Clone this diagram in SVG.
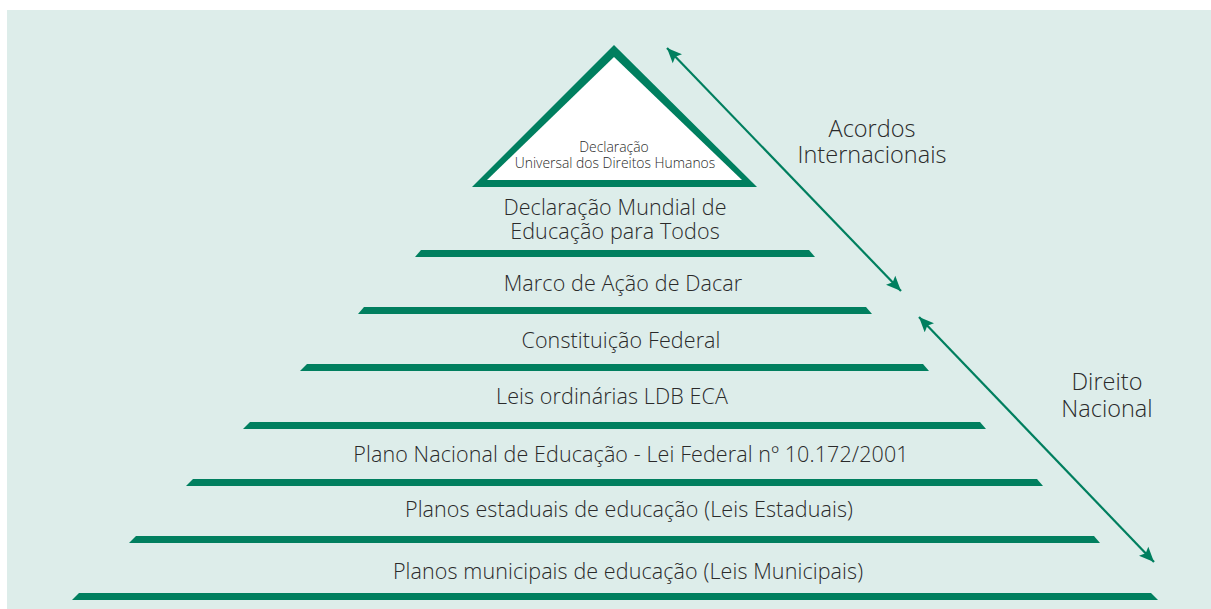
<svg xmlns="http://www.w3.org/2000/svg" width="1211" height="609" viewBox="0 0 1211 609">
<defs>
<style>
.bar{fill:#007f5f}
.t{font-family:"Open Sans","Noto Sans",sans-serif;font-size:21.5px;font-weight:300;letter-spacing:0.1px;fill:#2a2a2a;text-anchor:middle}
.l{font-family:"Open Sans","Noto Sans",sans-serif;font-size:23.5px;font-weight:300;fill:#2a2a2a;text-anchor:middle}
.s{font-family:"Open Sans","Noto Sans",sans-serif;font-size:13.9px;font-weight:300;fill:#2a2a2a;text-anchor:middle}
.arr{stroke:#007f5f;stroke-width:2.2;fill:none;marker-start:url(#ah);marker-end:url(#ah)}
</style>
<marker id="ah" markerUnits="userSpaceOnUse" markerWidth="16" markerHeight="14" refX="15" refY="6.5" orient="auto-start-reverse" viewBox="0 0 16 13">
<path d="M0,0 L15,6.5 L0,13 L3,6.5 z" fill="#007f5f"/>
</marker>
</defs>
<rect width="1211" height="609" fill="#ffffff"/>
<rect x="7" y="10" width="1204" height="599" fill="#ddedea"/>

<g id="apex">
<polygon points="614,45 472,187 757,187" fill="#007f5f"/>
<polygon points="614,57 487,180 742,180" fill="#ffffff"/>
<text class="s" x="614" y="152"><tspan x="614" y="152">Declaração</tspan><tspan x="615" y="168">Universal dos Direitos Humanos</tspan></text>
</g>

<g id="level1">
<text class="t" x="615" y="215"><tspan x="615" y="215">Declaração Mundial de</tspan><tspan x="615" y="239">Educação para Todos</tspan></text>
<polygon class="bar" points="421,250 809,250 815,257 415,257"/>
</g>
<g id="level2">
<text class="t" x="623" y="291">Marco de Ação de Dacar</text>
<polygon class="bar" points="364,307 866,307 872,314 358,314"/>
</g>
<g id="level3">
<text class="t" x="621" y="348">Constituição Federal</text>
<polygon class="bar" points="307,364 923,364 929,371 300,371"/>
</g>
<g id="level4">
<text class="t" x="612" y="404">Leis ordinárias LDB ECA</text>
<polygon class="bar" points="250,422 980,422 986,429 243,429"/>
</g>
<g id="level5">
<text class="t" x="631" y="462">Plano Nacional de Educação - Lei Federal nº 10.172/2001</text>
<polygon class="bar" points="193,479 1037,479 1043,486 186,486"/>
</g>
<g id="level6">
<text class="t" x="629" y="517">Planos estaduais de educação (Leis Estaduais)</text>
<polygon class="bar" points="136,536 1094,536 1100,543 129,543"/>
</g>
<g id="level7">
<text class="t" x="628" y="579">Planos municipais de educação (Leis Municipais)</text>
<polygon class="bar" points="79,593 1151,593 1158,600 72,600"/>
</g>

<g id="label-acordos">
<text class="l" x="872" y="137"><tspan x="872" y="137">Acordos</tspan><tspan x="872" y="163">Internacionais</tspan></text>
</g>
<g id="label-direito">
<text class="l" x="1107" y="390"><tspan x="1107" y="390">Direito</tspan><tspan x="1107" y="417">Nacional</tspan></text>
</g>

<g id="connectors">
<line class="arr" x1="667" y1="48" x2="901" y2="291"/>
<line class="arr" x1="919" y1="317" x2="1154" y2="562"/>
</g>
</svg>
